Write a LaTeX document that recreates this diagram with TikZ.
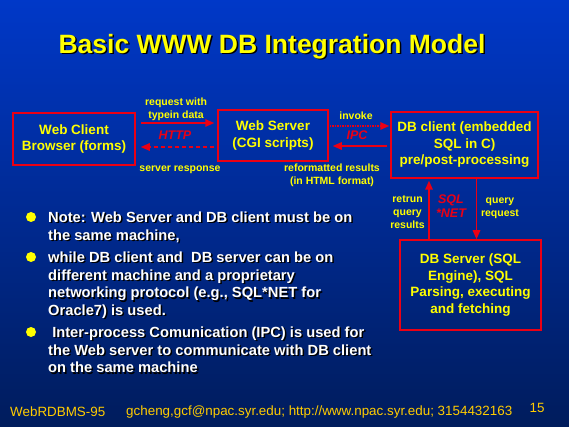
\documentclass[tikz,border=0pt]{standalone}
\usepackage{fontspec}
\setmainfont{Liberation Sans}
\usetikzlibrary{arrows.meta}
\definecolor{slidetop}{RGB}{0,56,200}
\definecolor{slidebot}{RGB}{0,28,92}
\definecolor{txtyel}{RGB}{255,255,0}
\definecolor{footyel}{RGB}{255,204,0}
\definecolor{boxred}{RGB}{235,0,20}
% text with a dark drop shadow
\newcommand{\shadowed}[2][1.5pt]{\rlap{\kern#1\raisebox{-#1}{\color{black}#2}}#2}
\tikzset{
  title/.style={text=txtyel, inner sep=0pt, font=\fontsize{26.5}{30}\selectfont\bfseries},
  box/.style={draw=boxred, line width=1.5pt, align=center, inner sep=0pt,
    text=txtyel, font=\fontsize{13.5}{16.5}\selectfont\bfseries},
  lbl/.style={text=txtyel, align=center, inner sep=0pt, font=\fontsize{10.5}{12.8}\selectfont\bfseries},
  proto/.style={text=boxred, align=center, inner sep=0pt, font=\fontsize{12.5}{14}\selectfont\bfseries\itshape},
  flow/.style={draw=boxred, line width=1.5pt, -{Triangle[length=9pt,width=7.5pt]}},
  dot/.style={circle, fill=txtyel, inner sep=0pt, minimum size=10pt},
  bullet/.style={text=white, align=left, inner sep=0pt, anchor=north west,
    font=\fontsize{14.7}{17.7}\selectfont\bfseries},
  foot/.style={text=footyel, inner sep=0pt, font=\fontsize{13.4}{15}\selectfont}
}
\begin{document}
\begin{tikzpicture}[x=1pt,y=-1pt]

  % slide background
  \shade[top color=slidetop, bottom color=slidebot] (0,0) rectangle (569,427);

  \node[title] (title) at (272,47) {\shadowed[1.5pt]{Basic WWW DB Integration Model}};

  % the four boxes
  \node[box, minimum width=122pt, minimum height=52pt] (client) at (74,139)
    {Web Client\\Browser (forms)};
  \node[box, minimum width=110pt, minimum height=51pt] (server) at (273,135.5)
    {Web Server\\(CGI scripts)};
  \node[box, minimum width=147pt, minimum height=66pt] (dbclient) at (464.5,145)
    {DB client (embedded\\SQL in C)\\pre/post-processing};
  \node[box, minimum width=141pt, minimum height=90pt] (dbserver) at (470.5,285)
    {DB Server (SQL\\Engine), SQL\\Parsing, executing\\and fetching};

  % client <-> web server
  \draw[flow] ([xshift=5pt,yshift=16pt]client.east) -- ([xshift=-3pt,yshift=12.5pt]server.west);
  \draw[flow, dash pattern=on 4pt off 3pt] ([xshift=-3pt,yshift=-11.5pt]server.west)
    -- ([xshift=5pt,yshift=-8pt]client.east);
  \node[lbl] (reqlbl) at (176,109.5) {request with\\typein data};
  \node[proto] (http) at (175,135.5) {HTTP};
  \node[lbl] (resplbl) at (180,170) {server response};

  % web server <-> DB client
  \draw[flow, densely dotted] ([xshift=1pt,yshift=9.5pt]server.east) -- ([xshift=-1pt,yshift=19pt]dbclient.west);
  \draw[flow] ([xshift=-3pt,yshift=-1pt]dbclient.west) -- ([xshift=4pt,yshift=-10.5pt]server.east);
  \node[lbl] (invlbl) at (356,116) {invoke};
  \node[proto] (ipc) at (357,135) {IPC};
  \node[lbl] (fmtlbl) at (332,175) {reformatted results\\(in HTML format)};

  % DB client <-> DB server
  \draw[flow] ([xshift=-41.5pt]dbserver.north) -- ([xshift=-35.5pt,yshift=-2pt]dbclient.south);
  \draw[flow] ([xshift=12pt]dbclient.south) -- ([xshift=6pt]dbserver.north);
  \node[lbl] (retlbl) at (407.5,212) {retrun\\query\\results};
  \node[proto] (sqlnet) at (451,206) {SQL\\*NET};
  \node[lbl] (qrylbl) at (500,208) {query\\request};

  % notes
  \node[dot] (b1) at (31,217) {};
  \node[dot] (b2) at (31,257) {};
  \node[dot] (b3) at (31,332) {};
  \node[bullet] (note1) at (48,211.5)
    {\shadowed{Note: Web Server and DB client must be on}\\\shadowed{the same machine,}};
  \node[bullet] (note2) at (48,251.5)
    {\shadowed{while DB client and \ DB server can be on}\\\shadowed{different machine and a proprietary}\\
     \shadowed{networking protocol (e.g., SQL*NET for}\\\shadowed{Oracle7) is used.}};
  \node[bullet] (note3) at (48,326.5)
    {\shadowed{\ Inter-process Comunication (IPC) is used for}\\\shadowed{the Web server to communicate with DB client}\\
     \shadowed{on the same machine}};

  % footer
  \node[foot, anchor=west] (tag) at (10,412) {WebRDBMS-95};
  \node[foot, anchor=west] (contact) at (126,412) {gcheng,gcf@npac.syr.edu; http://www.npac.syr.edu; 3154432163};
  \node[foot] (pagenum) at (537,408) {15};

\end{tikzpicture}
\end{document}
